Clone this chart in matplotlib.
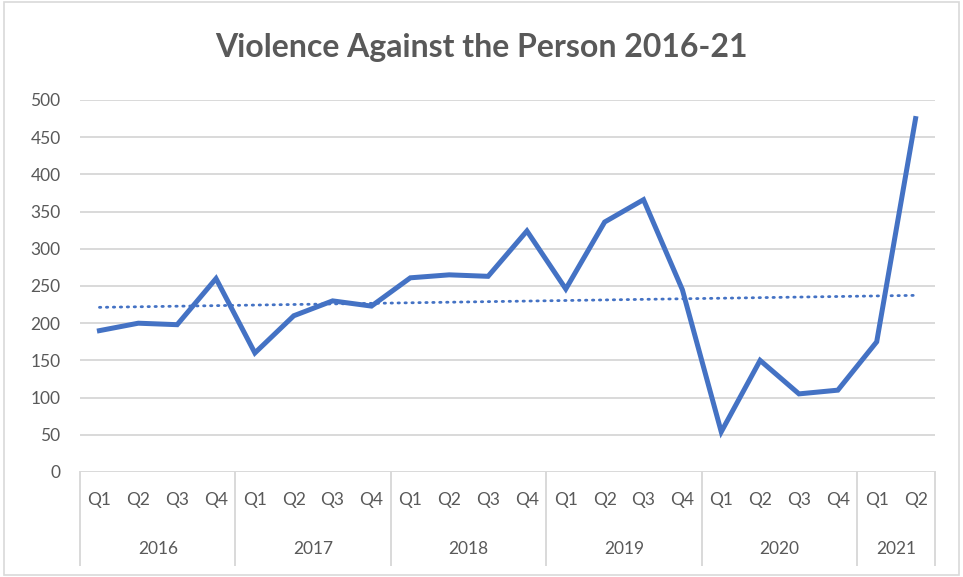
import numpy as np
import matplotlib
matplotlib.use("Agg")
import matplotlib.pyplot as plt
from matplotlib.patches import Rectangle

plt.rcParams['font.family'] = ['Lato', 'DejaVu Sans']

# --- DATOS ---
anios = ["2016", "2017", "2018", "2019", "2020", "2021"]
trimestres_por_anio = [4, 4, 4, 4, 4, 2]
trimestres = ["Q1", "Q2", "Q3", "Q4"] * 5 + ["Q1", "Q2"]
valores = [190, 200, 198, 260,
           160, 210, 230, 223,
           261, 265, 263, 324,
           246, 336, 366, 245,
           54, 150, 105, 110,
           175, 475]
titulo = "Violence Against the Person 2016-21"

GRIS_TEXTO = "#595959"
GRIS_LINEA = "#d9d9d9"
AZUL = "#4472c4"

fig = plt.figure(figsize=(9.63, 5.77), dpi=100)
ax = fig.add_axes([80 / 963, 105 / 577, 855 / 963, 372 / 577])

x = np.arange(len(valores))
ax.plot(x, valores, color=AZUL, lw=3.6, solid_joinstyle="miter", zorder=3)

# linea de tendencia lineal
m, b = np.polyfit(x, valores, 1)
ax.plot(x, m * x + b, color=AZUL, lw=2.0, linestyle=(0, (0.5, 2.0)),
        dash_capstyle="round", zorder=2)

ax.set_xlim(-0.5, len(valores) - 0.5)
ax.set_ylim(0, 500)
ax.set_yticks(range(0, 501, 50))
ax.yaxis.grid(True, color=GRIS_LINEA, lw=1.4)
ax.set_axisbelow(True)
for s in ax.spines.values():
    s.set_visible(False)
ax.tick_params(axis="y", length=0, labelsize=12.5, labelcolor=GRIS_TEXTO, pad=14)
ax.set_xticks([])

# ejes de categorias en dos niveles
trans = ax.get_xaxis_transform()
for i, q in enumerate(trimestres):
    ax.text(i, -0.075, q, transform=trans, ha="center", va="center",
            fontsize=12.5, color=GRIS_TEXTO)

bordes = np.concatenate([[0], np.cumsum(trimestres_por_anio)]) - 0.5
for anio, ini, fin in zip(anios, bordes[:-1], bordes[1:]):
    ax.text((ini + fin) / 2, -0.207, anio, transform=trans, ha="center",
            va="center", fontsize=12.5, color=GRIS_TEXTO)
for bx in bordes:
    ax.plot([bx, bx], [0, -0.25], transform=trans, color=GRIS_LINEA,
            lw=1.4, clip_on=False)

fig.text(0.5, 1 - 47 / 577, titulo, ha="center", va="center",
         fontsize=23, fontweight="bold", color=GRIS_TEXTO)

fig.patches.append(Rectangle((0.004, 0.004), 0.992, 0.992, transform=fig.transFigure,
                             fill=False, edgecolor=GRIS_LINEA, lw=1.2))

fig.savefig("out.png", dpi=100)
